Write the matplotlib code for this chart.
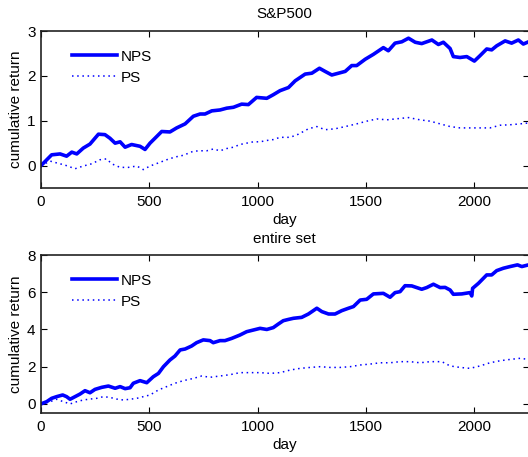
import matplotlib
matplotlib.use('Agg')
import matplotlib.pyplot as plt

plt.rcParams['font.family'] = ['Liberation Sans', 'DejaVu Sans']
plt.rcParams['font.size'] = 11

# S&P500 panel
sp_nps_day = [0, 49, 88, 118, 142, 165, 195, 226, 265, 295, 318, 342, 365, 388, 418, 457, 480,
              503, 526, 557, 595, 626, 665, 703, 734, 757, 788, 826, 857, 888, 926, 957, 995,
              1042, 1072, 1103, 1142, 1173, 1219, 1250, 1285, 1311, 1342, 1373, 1404, 1434,
              1457, 1496, 1534, 1580, 1603, 1634, 1665, 1696, 1727, 1757, 1804, 1834, 1857,
              1888, 1903, 1934, 1965, 2000, 2026, 2057, 2080, 2103, 2142, 2172, 2203, 2226, 2250]
sp_nps = [0.0, 0.24, 0.26, 0.21, 0.30, 0.26, 0.39, 0.48, 0.70, 0.69, 0.61, 0.50, 0.53, 0.41,
          0.47, 0.43, 0.36, 0.50, 0.61, 0.76, 0.75, 0.84, 0.93, 1.10, 1.15, 1.15, 1.22, 1.24,
          1.28, 1.30, 1.37, 1.36, 1.52, 1.50, 1.58, 1.67, 1.74, 1.89, 2.04, 2.06, 2.17, 2.10,
          2.02, 2.06, 2.10, 2.23, 2.23, 2.37, 2.48, 2.63, 2.56, 2.73, 2.76, 2.84, 2.75, 2.72,
          2.80, 2.70, 2.75, 2.61, 2.43, 2.41, 2.43, 2.33, 2.45, 2.60, 2.58, 2.67, 2.78, 2.73,
          2.80, 2.71, 2.76]

sp_ps_day = [0, 42, 72, 111, 157, 195, 234, 272, 303, 326, 365, 403, 442, 472, 503, 542, 580,
             618, 657, 703, 734, 765, 795, 826, 857, 888, 918, 949, 980, 1011, 1042, 1072, 1103,
             1150, 1188, 1234, 1273, 1311, 1357, 1404, 1457, 1503, 1550, 1596, 1634, 1696,
             1749, 1796, 1842, 1888, 1934, 1980, 2026, 2072, 2119, 2165, 2211, 2250]
sp_ps = [0.0, 0.10, 0.06, 0.01, -0.07, -0.01, 0.04, 0.13, 0.15, 0.04, -0.04, -0.04, -0.01,
         -0.09, -0.01, 0.06, 0.13, 0.19, 0.23, 0.32, 0.33, 0.33, 0.37, 0.33, 0.38, 0.41, 0.47,
         0.50, 0.53, 0.53, 0.56, 0.58, 0.63, 0.63, 0.70, 0.82, 0.87, 0.80, 0.82, 0.87, 0.93,
         0.99, 1.04, 1.02, 1.04, 1.07, 1.02, 0.99, 0.93, 0.87, 0.84, 0.84, 0.84, 0.84, 0.90,
         0.91, 0.93, 0.95]

# entire set panel
all_nps_day = [0, 26, 49, 72, 100, 118, 134, 157, 180, 203, 226, 249, 280, 311, 342, 365, 388,
               411, 426, 457, 488, 518, 542, 565, 595, 618, 642, 665, 695, 718, 749, 780, 795,
               826, 849, 880, 918, 949, 980, 1011, 1042, 1072, 1095, 1118, 1142, 1165, 1203,
               1234, 1273, 1296, 1327, 1357, 1388, 1419, 1442, 1473, 1503, 1534, 1580, 1611,
               1634, 1657, 1680, 1711, 1757, 1780, 1811, 1842, 1865, 1888, 1903, 1942, 1980,
               1988, 1992, 2019, 2057, 2080, 2103, 2134, 2165, 2199, 2219, 2250]
all_nps = [0.0, 0.12, 0.30, 0.39, 0.48, 0.39, 0.25, 0.39, 0.53, 0.71, 0.60, 0.78, 0.89, 0.96,
           0.84, 0.93, 0.82, 0.87, 1.11, 1.25, 1.14, 1.46, 1.64, 2.00, 2.36, 2.57, 2.90, 2.95,
           3.11, 3.29, 3.44, 3.40, 3.29, 3.40, 3.40, 3.52, 3.70, 3.88, 3.97, 4.06, 4.00, 4.10,
           4.29, 4.47, 4.54, 4.60, 4.65, 4.83, 5.14, 4.96, 4.83, 4.83, 5.01, 5.14, 5.23, 5.58,
           5.62, 5.91, 5.94, 5.73, 5.98, 6.03, 6.35, 6.34, 6.16, 6.25, 6.43, 6.25, 6.26, 6.12,
           5.89, 5.91, 5.98, 5.80, 6.21, 6.48, 6.93, 6.93, 7.16, 7.29, 7.38, 7.47, 7.38, 7.47]

all_ps_day = [0, 42, 72, 103, 134, 165, 195, 226, 257, 288, 318, 349, 380, 411, 442, 472, 503,
              542, 580, 618, 657, 703, 742, 780, 826, 872, 918, 965, 1011, 1057, 1103, 1150,
              1196, 1242, 1288, 1334, 1380, 1427, 1473, 1519, 1565, 1611, 1657, 1703, 1749,
              1796, 1850, 1888, 1934, 1980, 2026, 2072, 2119, 2165, 2211, 2250]
all_ps = [0.0, 0.12, 0.25, 0.12, 0.0, 0.12, 0.21, 0.26, 0.30, 0.39, 0.35, 0.26, 0.21, 0.25,
          0.30, 0.39, 0.48, 0.75, 0.93, 1.11, 1.25, 1.37, 1.50, 1.43, 1.50, 1.57, 1.68, 1.68,
          1.68, 1.64, 1.68, 1.82, 1.91, 1.96, 2.00, 1.96, 1.96, 2.00, 2.09, 2.14, 2.21, 2.21,
          2.27, 2.27, 2.21, 2.27, 2.27, 2.04, 1.96, 1.91, 2.04, 2.21, 2.32, 2.39, 2.45, 2.39]

fig = plt.figure(figsize=(5.28, 4.57), dpi=100)
ax1 = fig.add_axes([0.0777, 0.5886, 0.9233, 0.3435])
ax2 = fig.add_axes([0.0777, 0.0958, 0.9233, 0.3462])

panels = [
    (ax1, sp_nps_day, sp_nps, sp_ps_day, sp_ps, 'S&P500', (-0.5, 3), [0, 1, 2, 3], 9.5),
    (ax2, all_nps_day, all_nps, all_ps_day, all_ps, 'entire set', (-0.5, 8), [0, 2, 4, 6, 8], 8.5),
]

for ax, nd, nv, pd_, pv, title, ylim, yticks, tpad in panels:
    ax.plot(nd, nv, color='#0000ff', lw=2.6, label='NPS')
    ax.plot(pd_, pv, color='#0000ff', lw=1.1, linestyle=(0, (1, 2.4)), label='PS')
    ax.set_xlim(0, 2250)
    ax.set_ylim(*ylim)
    ax.set_xticks([0, 500, 1000, 1500, 2000])
    ax.set_yticks(yticks)
    ax.tick_params(direction='in', top=True, right=True, length=4, width=0.8, labelsize=11)
    ax.tick_params(axis='x', pad=5)
    ax.tick_params(axis='y', pad=4)
    for s in ax.spines.values():
        s.set_linewidth(1.2)
        s.set_color('#222222')
    ax.set_title(title, fontsize=11, pad=tpad)
    ax.set_xlabel('day', labelpad=3)
    ax.set_ylabel('cumulative return', labelpad=3)
    ax.legend(loc='upper left', bbox_to_anchor=(0.05, 0.92), frameon=False,
              handlelength=3.0, handletextpad=0.25, labelspacing=0.45, fontsize=11,
              borderaxespad=0)

fig.savefig('out.png', dpi=100)
